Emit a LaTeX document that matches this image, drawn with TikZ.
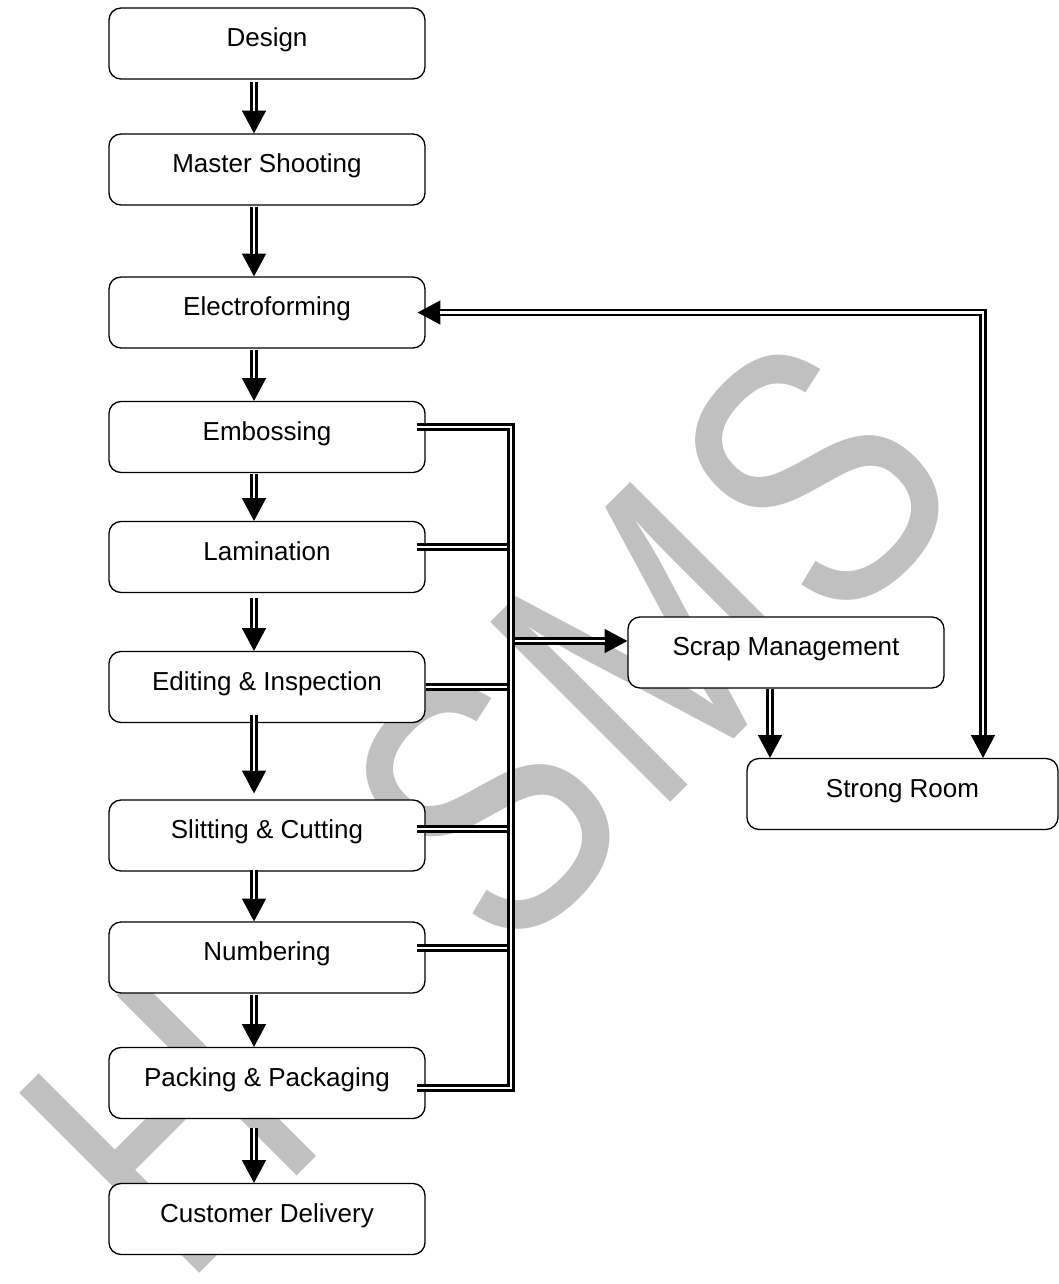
\documentclass[tikz,border=0pt]{standalone}
\usepackage{fontspec}
\setmainfont{Liberation Sans}
\usetikzlibrary{arrows.meta,calc}
\definecolor{wmgray}{RGB}{192,192,192}
\tikzset{
  box/.style={draw=black, line width=1pt, rounded corners=9pt, fill=white,
    minimum width=237pt, minimum height=53.25pt, inner sep=0pt,
    text height=15pt, text depth=10pt, font=\fontsize{19.5}{23}\selectfont},
  dbl/.style={line width=1.9pt, double=white, double distance=1.8pt},
  arr/.style={line width=0.6pt, -{Triangle[width=18pt,length=17pt]},
    postaction={draw, dbl, arrows=-, shorten >=16.8pt}},
  arrboth/.style={line width=0.6pt, {Triangle[width=18pt,length=17pt]}-{Triangle[width=18pt,length=17pt]},
    postaction={draw, dbl, arrows=-, shorten >=16.8pt, shorten <=16.8pt}},
  wmark/.style={rotate=45, xscale=0.8, text=wmgray, inner sep=0pt, font=\fontsize{277.5}{277.5}\selectfont}
}
\begin{document}
\begin{tikzpicture}[x=0.75pt,y=-0.75pt]
\useasboundingbox (0,0) rectangle (1059,1284);
\fill[white] (0,0) rectangle (1059,1284);
% watermark
\node[wmark] (wm) at (489,804) {H\hspace{229pt}S\hspace{10pt}M\hspace{10pt}S};
% boxes
\node[box] (design) at (267,43.5) {Design};
\node[box] (master) at (267,169.5) {Master Shooting};
\node[box] (electro) at (267,312.5) {Electroforming};
\node[box] (emboss) at (267,437) {Embossing};
\node[box] (lamin) at (267,557) {Lamination};
\node[box] (edit) at (267,687) {Editing \& Inspection};
\node[box] (slit) at (267,835.5) {Slitting \& Cutting};
\node[box] (numb) at (267,957.5) {Numbering};
\node[box] (pack) at (267,1083) {Packing \& Packaging};
\node[box] (cust) at (267,1219) {Customer Delivery};
\node[box] (scrap) at (786,652.5) {Scrap Management};
\node[box, minimum width=233.25pt] (strong) at (902.5,794) {Strong Room};
% main flow
\draw[arr] ($(design.south)+(-13,2)$) -- ($(master.north)+(-13,0)$);
\draw[arr] ($(master.south)+(-13,1)$) -- ($(electro.north)+(-13,0)$);
\draw[arr] ($(electro.south)+(-13,1)$) -- ($(emboss.north)+(-13,0)$);
\draw[arr] ($(emboss.south)+(-13,1)$) -- ($(lamin.north)+(-13,0)$);
\draw[arr] ($(lamin.south)+(-13,5)$) -- ($(edit.north)+(-13,0)$);
\draw[arr] ($(edit.south)+(-13,-8)$) -- ($(slit.north)+(-13,-6)$);
\draw[arr] ($(slit.south)+(-13,-2)$) -- ($(numb.north)+(-13,0)$);
\draw[arr] ($(numb.south)+(-13,1)$) -- ($(pack.north)+(-13,0)$);
\draw[arr] ($(pack.south)+(-13,9)$) -- ($(cust.north)+(-13,0)$);
% scrap bus
\coordinate (busT) at (511,427);
\coordinate (busB) at (511,1088);
\draw[dbl] ($(lamin.east)+(-9,-10)$) -- ($(lamin.east -| busT)+(0,-10)$);
\draw[dbl] (edit.east) -- (edit.east -| busT);
\draw[dbl] ($(slit.east)+(-9,-6.5)$) -- ($(slit.east -| busT)+(0,-6.5)$);
\draw[dbl] ($(numb.east)+(-9,-9.5)$) -- ($(numb.east -| busT)+(0,-9.5)$);
\draw[arr] ($(scrap.west -| busT)+(0,-11.5)$) -- ($(scrap.west)+(0,-11.5)$);
\draw[dbl] ($(emboss.east)+(-9,-10)$) -- (busT) -- (busB) -- ($(pack.east)+(-9,5)$);
% scrap to strong room
\draw[arr] ($(scrap.south)+(-16,0)$) -- ($(scrap.south |- strong.north)+(-16,0)$);
% strong room <-> electroforming
\draw[arrboth] ($(strong.north)+(80.5,0)$) |- ($(electro.east)+(-8,0)$);
\end{tikzpicture}
\end{document}
